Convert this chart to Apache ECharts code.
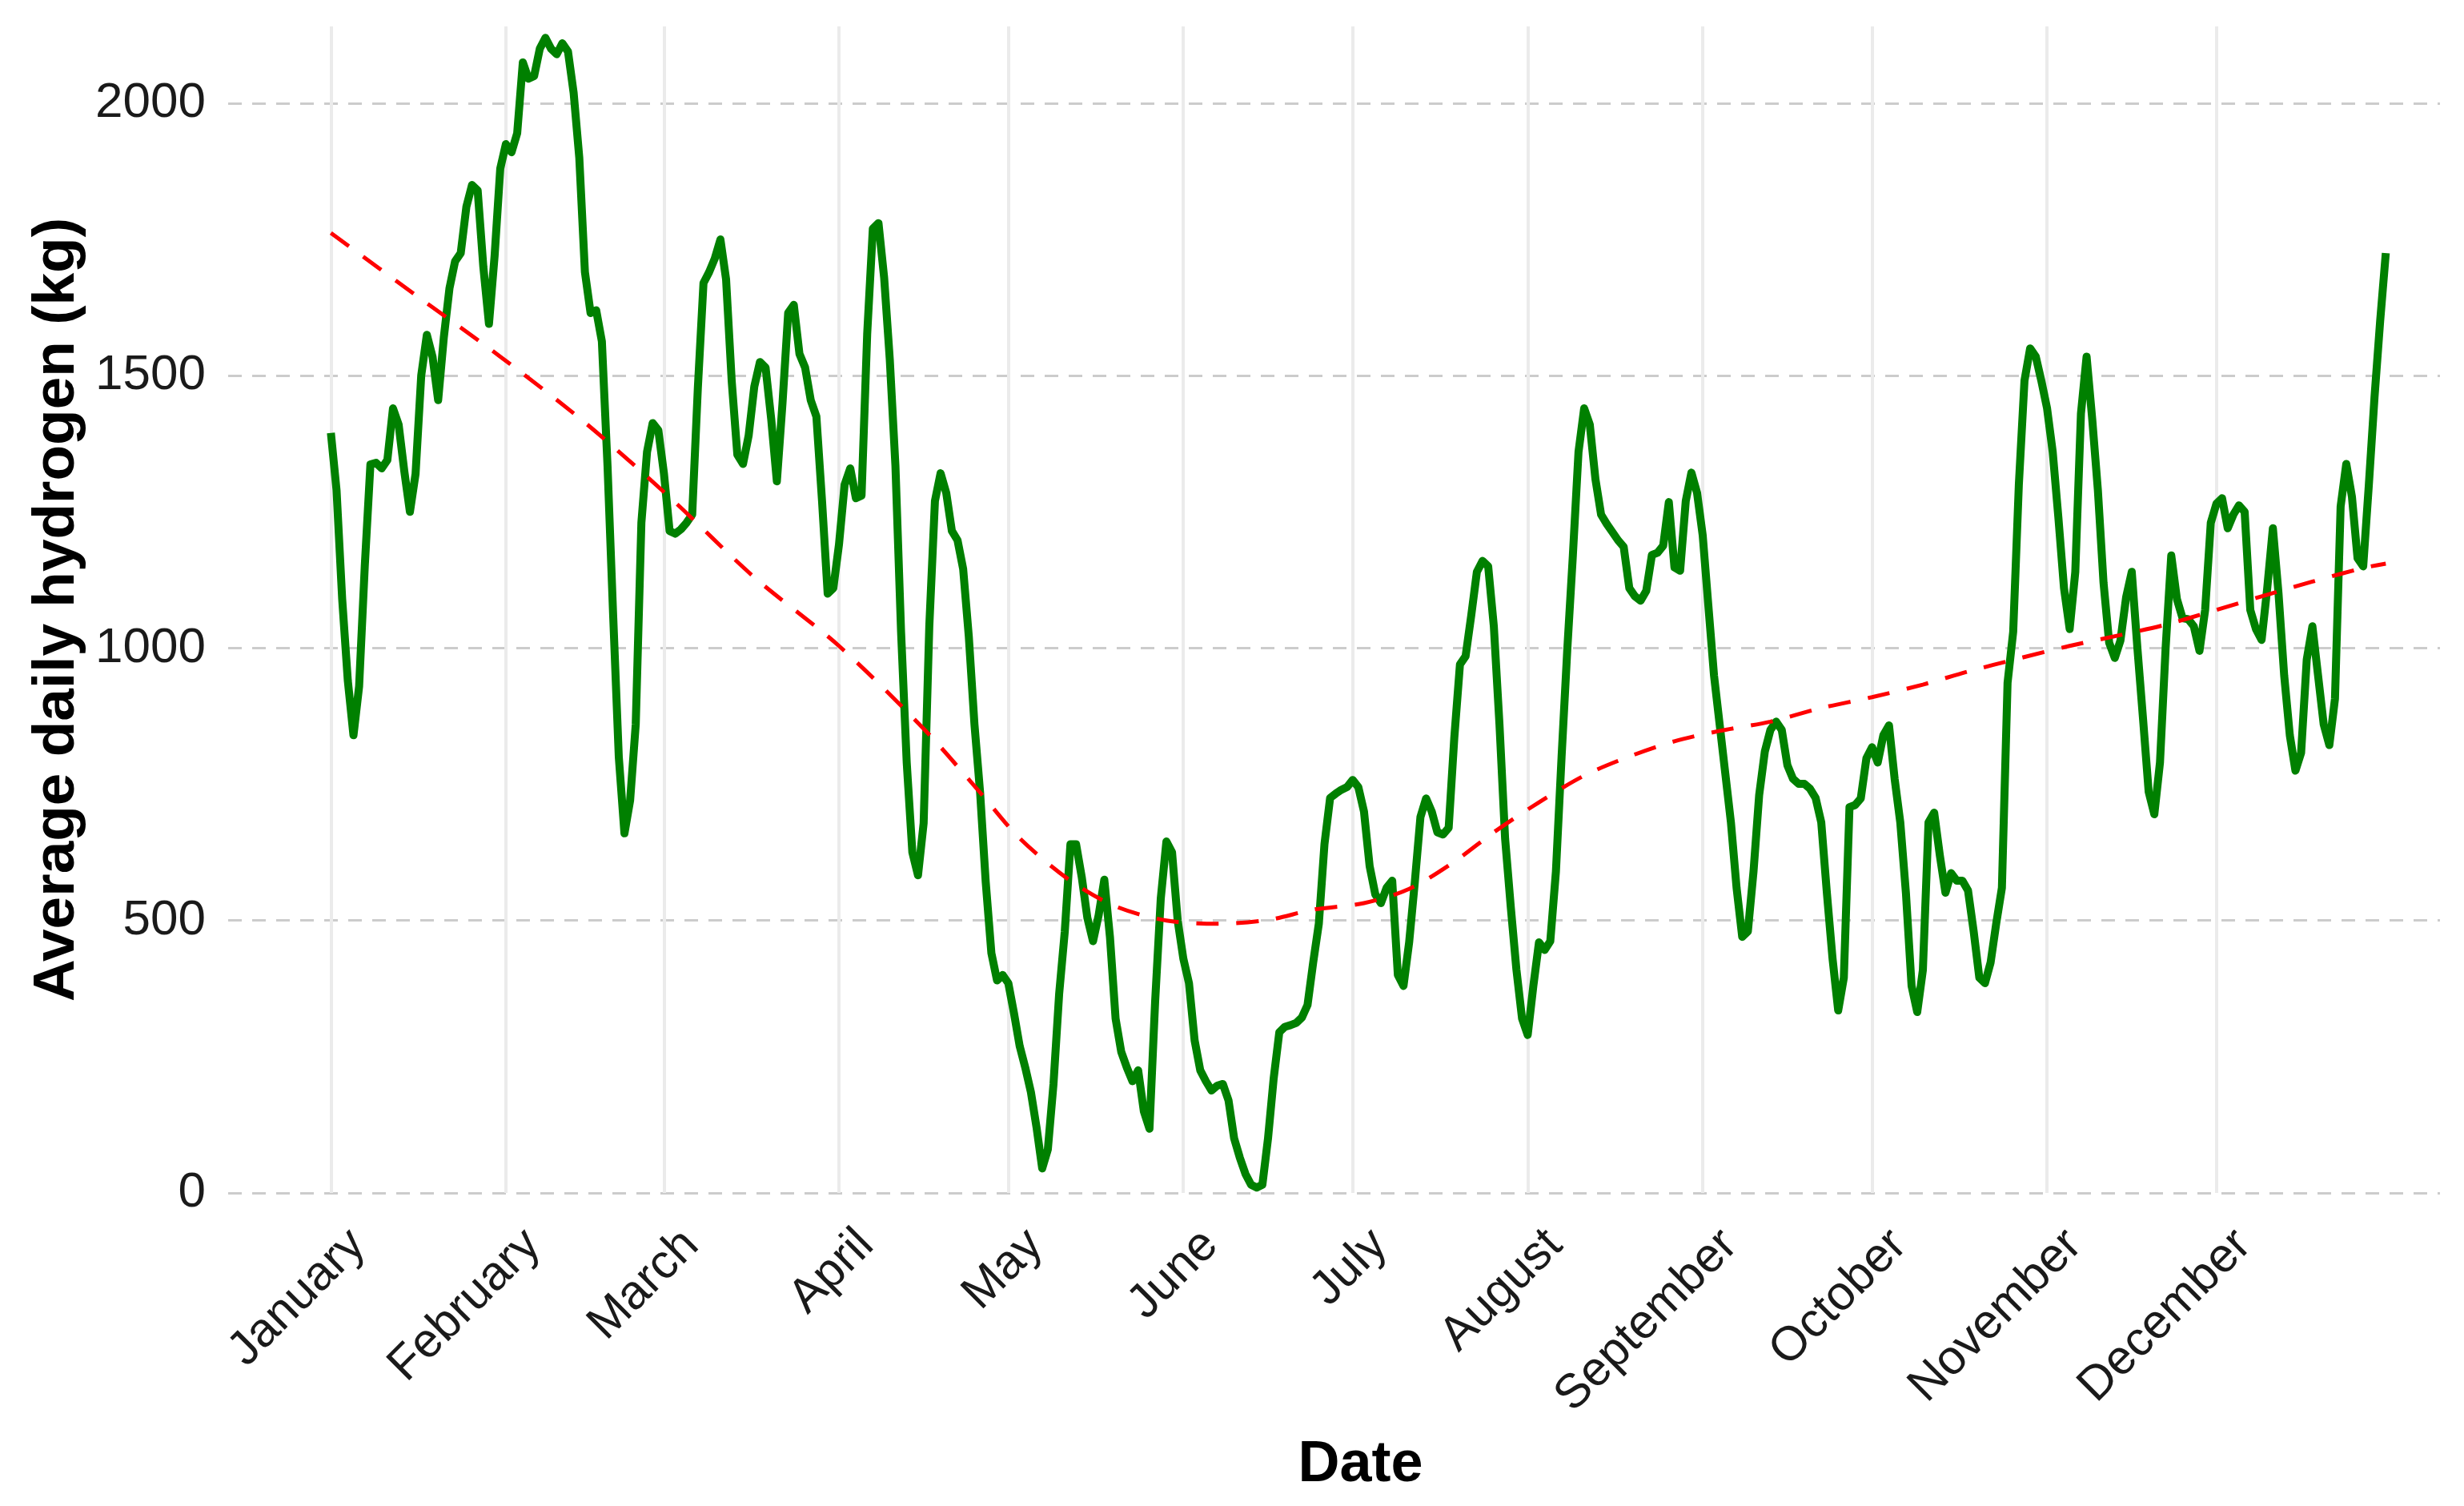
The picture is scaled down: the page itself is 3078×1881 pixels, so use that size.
<!DOCTYPE html>
<html>
<head>
<meta charset="utf-8">
<script src="https://cdn.jsdelivr.net/npm/echarts@6/dist/echarts.min.js"></script>
<style>
html,body{margin:0;padding:0;background:#fff;}
#chart{width:3078px;height:1881px;}
</style>
</head>
<body>
<div id="chart"></div>
<script>
// Month tick labels
const months = ['January','February','March','April','May','June','July','August','September','October','November','December'];
// Daily series starting at this date (one value per day)
const startYear = 2021;
const hydrogenKg = [
1395,1290,1090,940,840,930,1150,1337,1340,1330,
1345,1440,1410,1325,1250,1320,1500,1575,1535,1455,
1570,1660,1710,1725,1810,1850,1840,1700,1595,1720,
1880,1925,1910,1945,2075,2045,2050,2100,2120,2100,
2090,2110,2095,2019,1900,1690,1615,1620,1563,1335,
1060,800,660,720,860,1230,1360,1413,1400,1320,
1215,1210,1218,1230,1245,1477,1670,1690,1715,1750,
1677,1490,1355,1338,1390,1480,1525,1515,1420,1306,
1450,1615,1630,1540,1515,1455,1425,1270,1100,1110,
1190,1300,1330,1275,1280,1577,1770,1780,1680,1530,
1335,1030,790,625,583,679,1040,1270,1321,1285,
1215,1198,1145,1021,860,735,570,440,390,400,
385,330,270,230,185,120,45,80,200,365,
480,640,640,580,505,462,510,575,470,320,
259,230,205,225,150,118,350,540,645,625,
500,430,385,280,225,205,188,197,200,170,
100,65,35,15,10,15,100,210,295,305,
308,312,322,345,423,494,640,725,733,740,
745,758,745,700,600,548,532,560,573,400,
380,460,570,690,724,700,662,658,670,836,
970,985,1060,1140,1160,1150,1040,860,650,525,
410,320,290,380,460,446,462,590,800,995,
1170,1360,1440,1410,1310,1245,1228,1213,1198,1186,
1110,1095,1087,1105,1171,1175,1188,1268,1148,1142,
1270,1322,1285,1207,1078,950,860,770,680,560,
470,480,590,730,810,850,865,850,785,760,
751,751,742,725,680,550,430,335,395,708,
712,724,798,818,790,840,858,760,680,550,
380,332,409,680,698,620,551,587,573,573,
555,480,395,385,423,495,560,936,1030,1300,
1491,1550,1535,1490,1440,1360,1240,1110,1035,1140,
1430,1535,1420,1290,1120,1010,982,1014,1093,1140,
1000,870,736,695,790,1000,1170,1090,1055,1053,
1040,995,1070,1230,1265,1275,1220,1245,1262,1250,
1070,1035,1015,1110,1220,1100,950,840,775,808,
979,1040,950,860,822,907,1260,1338,1278,1165,
1150,1300,1460,1600,1725
];
// Smoothed trend (day of year, value)
const trendDay = [0,15,30,45,60,75,90,105,115,122,131,139,148,157,166,174,183,191,199,206,214,222,230,238,246,255,264,273,282,290,299,308,317,325,334,342,351,360,364];
const trendKg  = [1762,1648,1535,1414,1277,1130,1004,852,735,651,573,526,500,494,501,520,532,558,608,662,717,766,801,829,848,865,890,910,933,957,981,1004,1024,1043,1070,1095,1122,1147,1155];
const yTicks = [0,500,1000,1500,2000];

const DAY = 86400000;
const t0 = Date.UTC(startYear,0,1);
const monthTicks = months.map((m,i)=>Date.UTC(startYear,i,1));
const greenData = hydrogenKg.map((v,i)=>[t0+i*DAY, v]);
const trendData = trendDay.map((d,i)=>[t0+d*DAY, trendKg[i]]);

const chart = echarts.init(document.getElementById('chart'), null, {renderer:'canvas'});
const FONT = 'Liberation Sans, Arial, sans-serif';
chart.setOption({
  animation: false,
  backgroundColor: '#ffffff',
  grid: {left:285, right:30, top:33, bottom:391, containLabel:false},
  xAxis: {
    type:'value',
    min: t0 - 18.2*DAY,
    max: t0 + 364*DAY + 9.6*DAY,
    name:'Date', nameLocation:'middle', nameGap:278,
    nameTextStyle:{fontFamily:FONT, fontSize:72, fontWeight:'bold', color:'#000', padding:[0,0,0,66]},
    axisLine:{show:false},
    axisTick:{show:false, customValues: monthTicks},
    axisLabel:{
      customValues: monthTicks,
      rotate:45, margin:22, verticalAlign:'top', lineHeight:96,
      formatter: v => months[new Date(v).getUTCMonth()],
      fontFamily:FONT, fontSize:60, color:'#1a1a1a', hideOverlap:false
    },
    splitLine:{show:true, lineStyle:{color:'#ebebeb', width:4}}
  },
  yAxis: {
    type:'value', min:0, max:2141,
    name:'Average daily hydrogen (kg)', nameLocation:'middle', nameGap:176,
    nameTextStyle:{fontFamily:FONT, fontSize:73, fontWeight:'bold', color:'#000'},
    axisLine:{show:false},
    axisTick:{show:false, customValues: yTicks},
    axisLabel:{customValues: yTicks, margin:28, formatter: v => String(v),
      fontFamily:FONT, fontSize:62, color:'#1a1a1a'},
    splitLine:{show:true, lineStyle:{color:'#cccccc', width:3, type:[17,13]}}
  },
  series: [
    {type:'line', data:greenData, showSymbol:false, clip:false,
     lineStyle:{color:'#008000', width:10, join:'round'}},
    {type:'line', data:trendData, showSymbol:false, smooth:0.3, clip:false,
     lineStyle:{color:'#ff0000', width:5, type:[28,22]}}
  ]
});
</script>
</body>
</html>
